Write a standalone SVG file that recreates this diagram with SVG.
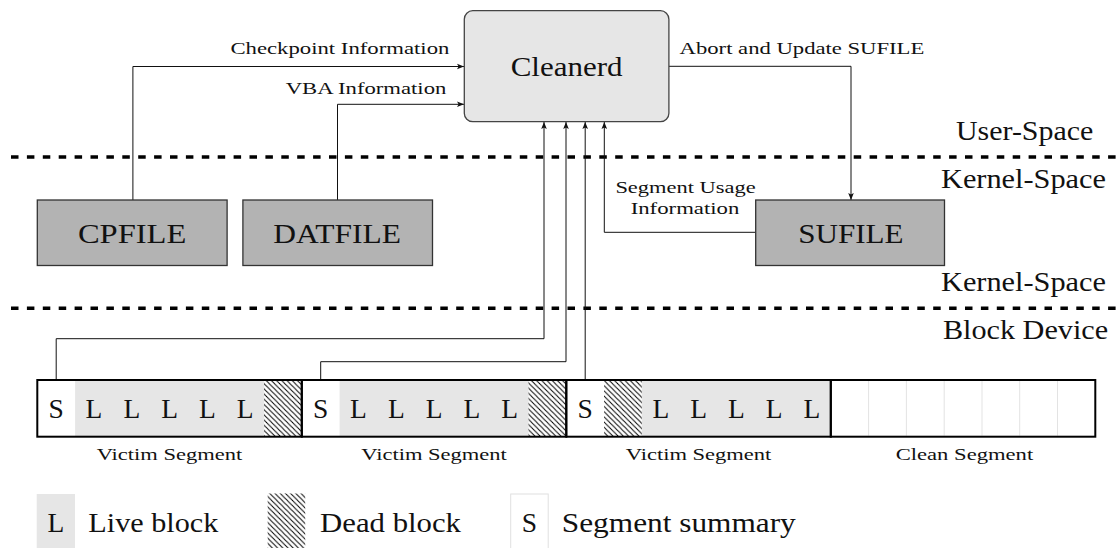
<svg xmlns="http://www.w3.org/2000/svg" width="1118" height="548" viewBox="0 0 1118 548">
<style>
.big{font-family:"Liberation Serif","Times New Roman",serif;font-size:27px;fill:#111}
.sm{font-family:"Liberation Serif","Times New Roman",serif;font-size:16.5px;fill:#111}
.cell{font-family:"Liberation Serif","Times New Roman",serif;font-size:27.5px;fill:#111;text-anchor:middle}
.file{fill:#b3b3b3;stroke:#333;stroke-width:1.3}
.con{fill:none;stroke:#111;stroke-width:1}
.dash{stroke:#000;stroke-width:3.6;stroke-dasharray:7.5 8.4}
.live{fill:#e6e6e6}
.seg{fill:none;stroke:#000;stroke-width:2}
.clean{stroke:#e3e3e3;stroke-width:1}
</style>
<defs>
<marker id="arr" markerUnits="userSpaceOnUse" markerWidth="10" markerHeight="10" refX="0" refY="0" orient="auto" overflow="visible">
<path d="M0,0 L-7,-2.8 L-5.4,0 L-7,2.8 Z" fill="#111"/>
</marker>
<pattern id="hatch" patternUnits="userSpaceOnUse" width="5.2" height="5.2">
<path d="M-1,-1 L6.2,6.2 M-1,4.2 L1,6.2 M4.2,-1 L6.2,1" stroke="#000" stroke-width="1"/>
</pattern>
</defs>

<!-- layer separators -->
<g id="separators">
<line class="dash" x1="11" y1="157" x2="1118" y2="157"/>
<line class="dash" x1="11" y1="308.3" x2="1118" y2="308.3"/>
</g>

<g id="layer-labels">
<text class="big" x="956" y="140" textLength="137.3" lengthAdjust="spacingAndGlyphs">User-Space</text>
<text class="big" x="941" y="188.3" textLength="165" lengthAdjust="spacingAndGlyphs">Kernel-Space</text>
<text class="big" x="941" y="290.5" textLength="165" lengthAdjust="spacingAndGlyphs">Kernel-Space</text>
<text class="big" x="942.9" y="339.3" textLength="165.3" lengthAdjust="spacingAndGlyphs">Block Device</text>
</g>

<!-- connectors -->
<g id="connectors">
<path class="con" d="M132.9,200 V66.5 H464" marker-end="url(#arr)"/>
<path class="con" d="M337.5,200 V104.3 H464" marker-end="url(#arr)"/>
<path class="con" d="M668.9,66.3 H851 V200" marker-end="url(#arr)"/>
<path class="con" d="M755.7,232.3 H604.3 V122" marker-end="url(#arr)"/>
<path class="con" d="M56.2,380 V338.7 H544 V122" marker-end="url(#arr)"/>
<path class="con" d="M320.7,380 V361.7 H566 V122" marker-end="url(#arr)"/>
<path class="con" d="M585.2,380 V122" marker-end="url(#arr)"/>
<text class="sm" x="230.4" y="54" textLength="219" lengthAdjust="spacingAndGlyphs">Checkpoint Information</text>
<text class="sm" x="285.7" y="94" textLength="160.7" lengthAdjust="spacingAndGlyphs">VBA Information</text>
<text class="sm" x="679.6" y="54" textLength="244.7" lengthAdjust="spacingAndGlyphs">Abort and Update SUFILE</text>
<text class="sm" x="615.4" y="193" textLength="140.3" lengthAdjust="spacingAndGlyphs">Segment Usage</text>
<text class="sm" x="630.7" y="214" textLength="108.6" lengthAdjust="spacingAndGlyphs">Information</text>
</g>

<g id="cleanerd">
<rect x="464.3" y="10.7" width="204.6" height="111" rx="8.5" fill="#e6e6e6" stroke="#444" stroke-width="1.3"/>
<text class="big" x="510.7" y="76" textLength="111.8" lengthAdjust="spacingAndGlyphs">Cleanerd</text>
</g>

<g id="cpfile">
<rect class="file" x="37.3" y="200" width="189.8" height="65.5"/>
<text class="big" x="77.9" y="243" textLength="108.5" lengthAdjust="spacingAndGlyphs">CPFILE</text>
</g>
<g id="datfile">
<rect class="file" x="242.9" y="200" width="189.6" height="65.5"/>
<text class="big" x="273.2" y="243" textLength="127.8" lengthAdjust="spacingAndGlyphs">DATFILE</text>
</g>
<g id="sufile">
<rect class="file" x="755.7" y="200" width="188.8" height="65.5"/>
<text class="big" x="798.2" y="243" textLength="105.4" lengthAdjust="spacingAndGlyphs">SUFILE</text>
</g>

<!-- segments -->
<g id="segment1">
<rect class="live" x="75.1" y="380" width="188.9" height="56.7"/>
<rect x="264" y="380" width="37.8" height="56.7" fill="url(#hatch)"/>
<text class="cell" x="56.2" y="418.2">S</text>
<text class="cell" x="94" y="418.2">L</text>
<text class="cell" x="131.8" y="418.2">L</text>
<text class="cell" x="169.6" y="418.2">L</text>
<text class="cell" x="207.4" y="418.2">L</text>
<text class="cell" x="245.1" y="418.2">L</text>
<rect class="seg" x="37.3" y="380" width="264.5" height="56.7"/>
<text class="sm" x="96.7" y="460" textLength="145.5" lengthAdjust="spacingAndGlyphs">Victim Segment</text>
</g>
<g id="segment2">
<rect class="live" x="339.6" y="380" width="188.9" height="56.7"/>
<rect x="528.5" y="380" width="37.8" height="56.7" fill="url(#hatch)"/>
<text class="cell" x="320.7" y="418.2">S</text>
<text class="cell" x="358.5" y="418.2">L</text>
<text class="cell" x="396.3" y="418.2">L</text>
<text class="cell" x="434.1" y="418.2">L</text>
<text class="cell" x="471.8" y="418.2">L</text>
<text class="cell" x="509.6" y="418.2">L</text>
<rect class="seg" x="301.8" y="380" width="264.5" height="56.7"/>
<text class="sm" x="361.3" y="460" textLength="145.5" lengthAdjust="spacingAndGlyphs">Victim Segment</text>
</g>
<g id="segment3">
<rect x="604.1" y="380" width="37.8" height="56.7" fill="url(#hatch)"/>
<rect class="live" x="641.9" y="380" width="188.9" height="56.7"/>
<text class="cell" x="585.2" y="418.2">S</text>
<text class="cell" x="660.8" y="418.2">L</text>
<text class="cell" x="698.6" y="418.2">L</text>
<text class="cell" x="736.4" y="418.2">L</text>
<text class="cell" x="774.1" y="418.2">L</text>
<text class="cell" x="811.9" y="418.2">L</text>
<rect class="seg" x="566.3" y="380" width="264.5" height="56.7"/>
<text class="sm" x="625.8" y="460" textLength="145.5" lengthAdjust="spacingAndGlyphs">Victim Segment</text>
</g>
<g id="segment4">
<line class="clean" x1="868.6" y1="381" x2="868.6" y2="435.7"/>
<line class="clean" x1="906.4" y1="381" x2="906.4" y2="435.7"/>
<line class="clean" x1="944.2" y1="381" x2="944.2" y2="435.7"/>
<line class="clean" x1="982" y1="381" x2="982" y2="435.7"/>
<line class="clean" x1="1019.7" y1="381" x2="1019.7" y2="435.7"/>
<line class="clean" x1="1057.5" y1="381" x2="1057.5" y2="435.7"/>
<rect class="seg" x="830.8" y="380" width="264.5" height="56.7"/>
<text class="sm" x="895.7" y="460" textLength="137.5" lengthAdjust="spacingAndGlyphs">Clean Segment</text>
</g>

<!-- legend -->
<g id="legend-live">
<rect class="live" x="36.7" y="494" width="38.3" height="56.7"/>
<text class="cell" x="55.9" y="532">L</text>
<text class="big" x="88.3" y="532" textLength="130" lengthAdjust="spacingAndGlyphs">Live block</text>
</g>
<g id="legend-dead">
<rect x="267.7" y="493.5" width="37.5" height="57" fill="url(#hatch)"/>
<text class="big" x="320" y="532" textLength="141" lengthAdjust="spacingAndGlyphs">Dead block</text>
</g>
<g id="legend-summary">
<rect x="510.7" y="494" width="37.5" height="56.7" fill="#fff" stroke="#e0e0e0" stroke-width="1"/>
<text class="cell" x="529.5" y="532">S</text>
<text class="big" x="561.8" y="532" textLength="234" lengthAdjust="spacingAndGlyphs">Segment summary</text>
</g>
</svg>
